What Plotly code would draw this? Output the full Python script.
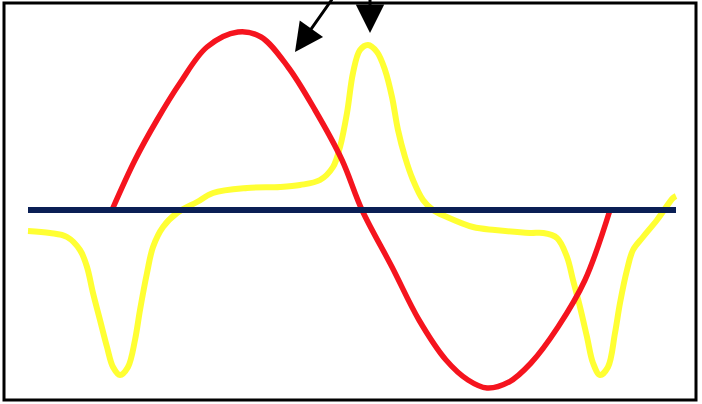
import plotly.graph_objects as go

# Baseline (navy)
base_x = [0, 648]
base_y = [0, 0]

# Red curve
red_x = [84, 107, 129, 152, 179, 210, 233, 260, 287, 314, 334, 364, 391, 418, 440, 459, 481, 503, 530, 557, 582]
red_y = [0, 50, 90, 127, 163, 178, 173, 143, 100, 50, 0, -57, -110, -150, -170, -178, -172, -153, -117, -70, 0]

# Yellow curve
yel_x = [0, 22, 39, 52, 59, 65, 72, 79, 85, 92, 100, 107, 112, 119, 125, 135, 149, 169, 185, 219, 252,
         272, 292, 305, 312, 319, 325, 332, 340, 349, 357, 364, 370, 377, 385, 395, 405, 419, 445, 467,
         502, 515, 529, 539, 545, 552, 559, 565, 572, 580, 587, 592, 599, 605, 615, 629, 645, 648]
yel_y = [-21, -23, -27, -40, -57, -83, -110, -137, -157, -165, -157, -130, -100, -63, -37, -17, -3, 8, 17, 22, 23,
         25, 30, 43, 63, 97, 137, 160, 165, 158, 140, 113, 80, 53, 30, 10, 0, -7, -17, -20,
         -23, -23, -28, -47, -70, -97, -127, -153, -165, -157, -123, -93, -60, -40, -27, -10, 12, 14]

# Arrows: (tail_x, tail_y, tip_x, tip_y)
arrows = [(305, 212, 267, 158), (342, 212, 342, 177)]

fig = go.Figure()
fig.add_trace(go.Scatter(x=yel_x, y=yel_y, mode="lines",
                         line=dict(color="#ffff33", width=6, shape="spline", smoothing=1.0),
                         hoverinfo="skip"))
fig.add_trace(go.Scatter(x=red_x, y=red_y, mode="lines",
                         line=dict(color="#f5141e", width=5.5, shape="spline", smoothing=1.0),
                         hoverinfo="skip"))
fig.add_trace(go.Scatter(x=base_x, y=base_y, mode="lines",
                         line=dict(color="#0a1f55", width=6),
                         hoverinfo="skip"))

for tx, ty, hx, hy in arrows:
    fig.add_annotation(x=hx, y=hy, ax=tx, ay=ty, xref="x", yref="y", axref="x", ayref="y",
                       text="", showarrow=True, arrowhead=2, arrowsize=1.9, arrowwidth=3,
                       arrowcolor="#000000", standoff=0)

fig.add_shape(type="rect", xref="paper", yref="paper",
              x0=4 / 702, x1=696 / 702, y0=1 - 400 / 404, y1=1 - 3 / 404,
              line=dict(color="#000000", width=3), fillcolor="rgba(0,0,0,0)", layer="below")

fig.update_layout(
    width=702, height=404,
    margin=dict(l=0, r=0, t=0, b=0),
    paper_bgcolor="white", plot_bgcolor="white",
    showlegend=False,
    xaxis=dict(range=[-28, 674], visible=False, fixedrange=True),
    yaxis=dict(range=[-194, 210], visible=False, fixedrange=True),
)

fig.write_html("out.html", config={"displayModeBar": False},
               post_script="document.body.style.margin='0';document.body.style.overflow='hidden';")
